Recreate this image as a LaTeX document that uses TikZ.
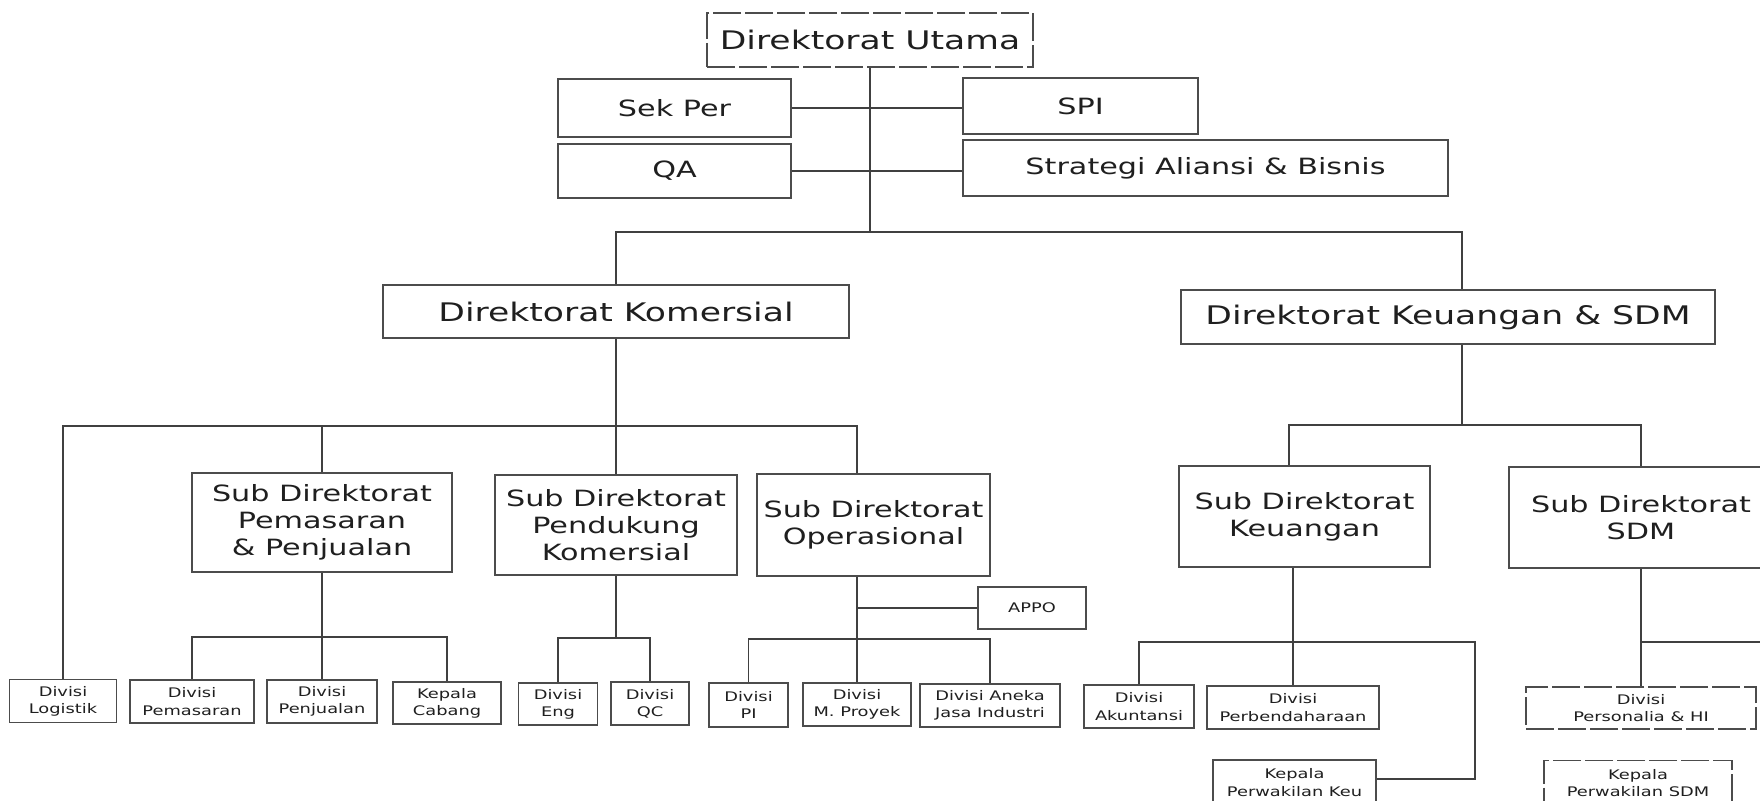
\documentclass[tikz,border=0pt]{standalone}
\usepackage{fontspec}
\setmainfont{DejaVu Sans}[FakeStretch=1.35]
\begin{document}
\begin{tikzpicture}[x=0.5pt,y=-0.5pt,
  sz/.style 2 args={minimum width=#1*0.5pt,minimum height=#2*0.5pt},
  box/.style={draw=black!70,line width=0.7pt,inner sep=0pt,align=center,text=black!88},
  dbox/.style={box,dash pattern=on 14pt off 2pt},
  big/.style={font=\fontsize{12.8}{15}\selectfont},
  mid/.style={font=\fontsize{11.2}{13.4}\selectfont},
  sml/.style={font=\fontsize{6.6}{8.6}\selectfont},
  link/.style={draw=black!75,line width=0.9pt}]
\useasboundingbox (0,0) rectangle (1760,801);
\fill[white] (0,0) rectangle (1760,801);
\begin{scope}
\clip (0,0) rectangle (1760,801);

% top management
\node[dbox,big,sz={326}{54}] (utama) at (870,40) {Direktorat Utama};
\node[box,mid,sz={233}{58}] (sekper) at (674.5,108) {Sek Per};
\node[box,mid,sz={233}{54}] (qa) at (674.5,171) {QA};
\node[box,mid,sz={235}{56}] (spi) at (1080.5,106) {SPI};
\node[box,mid,sz={485}{56}] (strat) at (1205.5,168) {Strategi Aliansi \& Bisnis};

% directorates
\node[box,big,sz={466}{53}] (kom) at (616,311.5) {Direktorat Komersial};
\node[box,big,sz={534}{54}] (keu) at (1448,317) {Direktorat Keuangan \& SDM};

% sub directorates
\node[box,mid,sz={260}{99}] (subpem) at (322,522.5) {Sub Direktorat\\Pemasaran\\\& Penjualan};
\node[box,mid,sz={242}{100}] (subpend) at (616,525) {Sub Direktorat\\Pendukung\\Komersial};
\node[box,mid,sz={233}{102}] (subops) at (873.5,525) {Sub Direktorat\\Operasional};
\node[box,mid,sz={251}{101}] (subkeu) at (1304.5,516.5) {Sub Direktorat\\Keuangan};
\node[box,mid,sz={264}{101}] (subsdm) at (1641,517.5) {Sub Direktorat\\SDM};
\node[box,sml,sz={108}{42}] (appo) at (1032,608) {APPO};

% divisions
\node[box,sml,sz={107}{43}] (logistik) at (63,701) {Divisi\\Logistik};
\node[box,sml,sz={124}{43}] (pemasaran) at (192,701.5) {Divisi\\Pemasaran};
\node[box,sml,sz={110}{43}] (penjualan) at (322,701.5) {Divisi\\Penjualan};
\node[box,sml,sz={108}{42}] (cabang) at (447,703) {Kepala\\Cabang};
\node[box,sml,sz={79}{42}] (eng) at (558,704) {Divisi\\Eng};
\node[box,sml,sz={78}{43}] (qc) at (650,703.5) {Divisi\\QC};
\node[box,sml,sz={79}{44}] (pi) at (748.5,705) {Divisi\\PI};
\node[box,sml,sz={108}{43}] (mproyek) at (857,704.5) {Divisi\\M. Proyek};
\node[box,sml,sz={140}{43}] (aneka) at (990,705.5) {Divisi Aneka\\Jasa Industri};
\node[box,sml,sz={110}{43}] (akun) at (1139,706.5) {Divisi\\Akuntansi};
\node[box,sml,sz={172}{43}] (perbend) at (1293,707.5) {Divisi\\Perbendaharaan};
\node[dbox,sml,sz={230}{42}] (personalia) at (1641,708) {Divisi\\Personalia \& HI};
\node[box,sml,sz={163}{45}] (kepkeu) at (1294.5,782.5) {Kepala\\Perwakilan Keu};
\node[dbox,sml,sz={188}{45}] (kepsdm) at (1638,783) {Kepala\\Perwakilan SDM};

% junction points
\coordinate (trunk) at (870,232);
\coordinate (keuj) at (1462,232);
\coordinate (kbar) at (616,426);
\coordinate (pmbar) at (322,637);
\coordinate (pdbar) at (616,638);
\coordinate (opbar) at (857,639);
\coordinate (kbar2) at (1462,425);
\coordinate (skj) at (1289,425);
\coordinate (kbar3) at (1300,642);
\coordinate (kcorner) at (1475,779);
\coordinate (sdmout) at (1775,642);

% top level
\draw[link] (utama.south) -- (trunk);
\draw[link] (sekper.east) -- (sekper.east -| spi.west);
\draw[link] (qa.east) -- (qa.east -| strat.west);
\draw[link] (kom.north) |- (keuj) -- (keuj |- keu.north);

% Komersial
\draw[link] (kom.south) -- (subpend.north);
\draw[link] (logistik.north) -- (logistik.north |- kbar) -- (mproyek.north |- kbar) -- (mproyek.north |- subops.north);
\draw[link] (subpem.north) -- (subpem.north |- kbar);
\draw[link] (subpem.south) -- (penjualan.north);
\draw[link] (pemasaran.north) -- (pemasaran.north |- pmbar) -- (cabang.north |- pmbar) -- (cabang.north);
\draw[link] (subpend.south) -- (subpend.south |- pdbar);
\draw[link] (eng.north) -- (eng.north |- pdbar) -- (qc.north |- pdbar) -- (qc.north);
\draw[link] (mproyek.north |- subops.south) -- (mproyek.north);
\draw[link] (mproyek.north |- appo.west) -- (appo.west);
\draw[link] (pi.north) -- (pi.north |- opbar) -- (aneka.north |- opbar) -- (aneka.north);

% Keuangan & SDM
\draw[link] (keuj |- keu.south) -- (kbar2);
\draw[link] (skj |- subkeu.north) -- (skj) -- (subsdm.north |- skj) -- (subsdm.north);
\draw[link] (perbend.north |- subkeu.south) -- (perbend.north);
\draw[link] (akun.north) -- (akun.north |- kbar3) -- (kcorner |- kbar3) -- (kcorner) -- (kcorner -| kepkeu.east);
\draw[link] (subsdm.south) -- (personalia.north);
\draw[link] (personalia.north |- sdmout) -- (sdmout);
\end{scope}
\end{tikzpicture}
\end{document}
